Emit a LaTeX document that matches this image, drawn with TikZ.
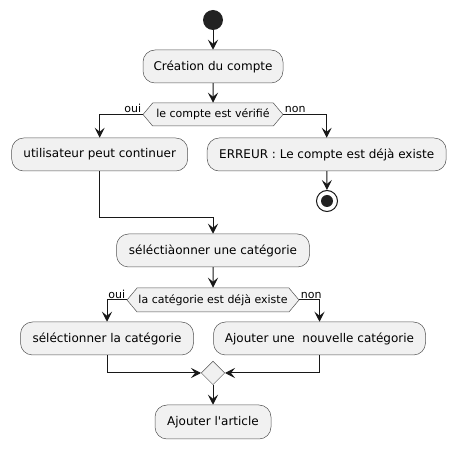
\documentclass[tikz,border=0pt]{standalone}
\usepackage{fontspec}
\setmainfont{DejaVu Sans}[Ligatures=TeXOff]
\usepackage{tikz}
\usepackage{color}
\usetikzlibrary{calc,arrows.meta,shapes.geometric,shapes.symbols}
\definecolor{umlfill}{HTML}{F1F1F1}
\definecolor{umlline}{HTML}{181818}
\definecolor{umldot}{HTML}{222222}

\tikzset{
  act/.style={draw=umlline!75, line width=0.5pt, fill=umlfill, rounded corners=12pt,
    minimum height=33pt, inner sep=0pt, font=\fontsize{12}{14}\selectfont},
  hexa/.style={draw=umlline!75, line width=0.5pt, fill=umlfill, signal,
    signal to=west and east, signal pointer angle=100, minimum height=23pt,
    inner sep=0pt, font=\fontsize{11}{13}\selectfont},
  flow/.style={draw=umlline, line width=1pt, -{Stealth[length=10pt,width=10pt,inset=4pt]}},
  lab/.style={font=\fontsize{11}{13}\selectfont, inner sep=1pt}
}

\begin{document}
\begin{tikzpicture}[x=1pt,y=-1pt]
      \useasboundingbox (0,0) rectangle (456,449);
      \node (S) at (213,20)  [circle, fill=umldot, minimum size=20pt, inner sep=0pt] {};
      \node (C) at (213,66.5)  [act, minimum width=140pt] {Création du compte};
      \node (D1) at (213,114.5)  [hexa, minimum width=140pt] {le compte est vérifié};
      \node (U) at (99.7,154.5)  [act, minimum width=176pt] {utilisateur peut continuer};
      \node (E) at (326.7,154.5)  [act, minimum width=239pt] {ERREUR : Le compte est déjà existe};
      \node (F) at (327,201)  [circle, draw=umlline, line width=1pt, fill=white, minimum size=21pt, inner sep=0pt] {};
      \node (F0) at (F)  [circle, fill=umldot, minimum size=12pt, inner sep=0pt] {};
      \coordinate (J1) at (99.7,218);
      \node (SEL) at (213,250.5)  [act, minimum width=193pt] {séléctiàonner une catégorie};
      \node (D2) at (213,300)  [hexa, minimum width=172pt, minimum height=24pt] {la catégorie est déjà existe};
      \node (SC) at (107,338.5)  [act, minimum width=173pt] {séléctionner la catégorie};
      \node (NC) at (319.5,338.5)  [act, minimum width=212pt] {Ajouter une\ \ nouvelle catégorie};
      \node (M) at (213,373)  [diamond, draw=umlline!75, line width=0.5pt, fill=umlfill, minimum width=23.5pt, minimum height=23.5pt, inner sep=0pt] {};
      \node (A) at (213,422)  [act, minimum width=116pt, minimum height=34pt] {Ajouter l'article};
      % first part
      \draw[flow] (S) to (C);
      \draw[flow] (C) to (D1);
      \draw[flow] (D1.west) -| node[lab, at start, anchor=south east] {oui} (U.north);
      \draw[flow] (D1.east) -| node[lab, at start, anchor=south west] {non} (E.north);
      \draw[flow] (E) to (F);
      \draw[flow] (U.south) -- (J1) -| (SEL.north);
      % second part
      \draw[flow] (SEL) to (D2);
      \draw[flow] (D2.west) -| node[lab, at start, anchor=south east] {oui} (SC.north);
      \draw[flow] (D2.east) -| node[lab, at start, anchor=south west] {non} (NC.north);
      \draw[flow] (SC.south) |- (M.west);
      \draw[flow] (NC.south) |- (M.east);
      \draw[flow] (M) to (A);
    \end{tikzpicture}
\end{document}
